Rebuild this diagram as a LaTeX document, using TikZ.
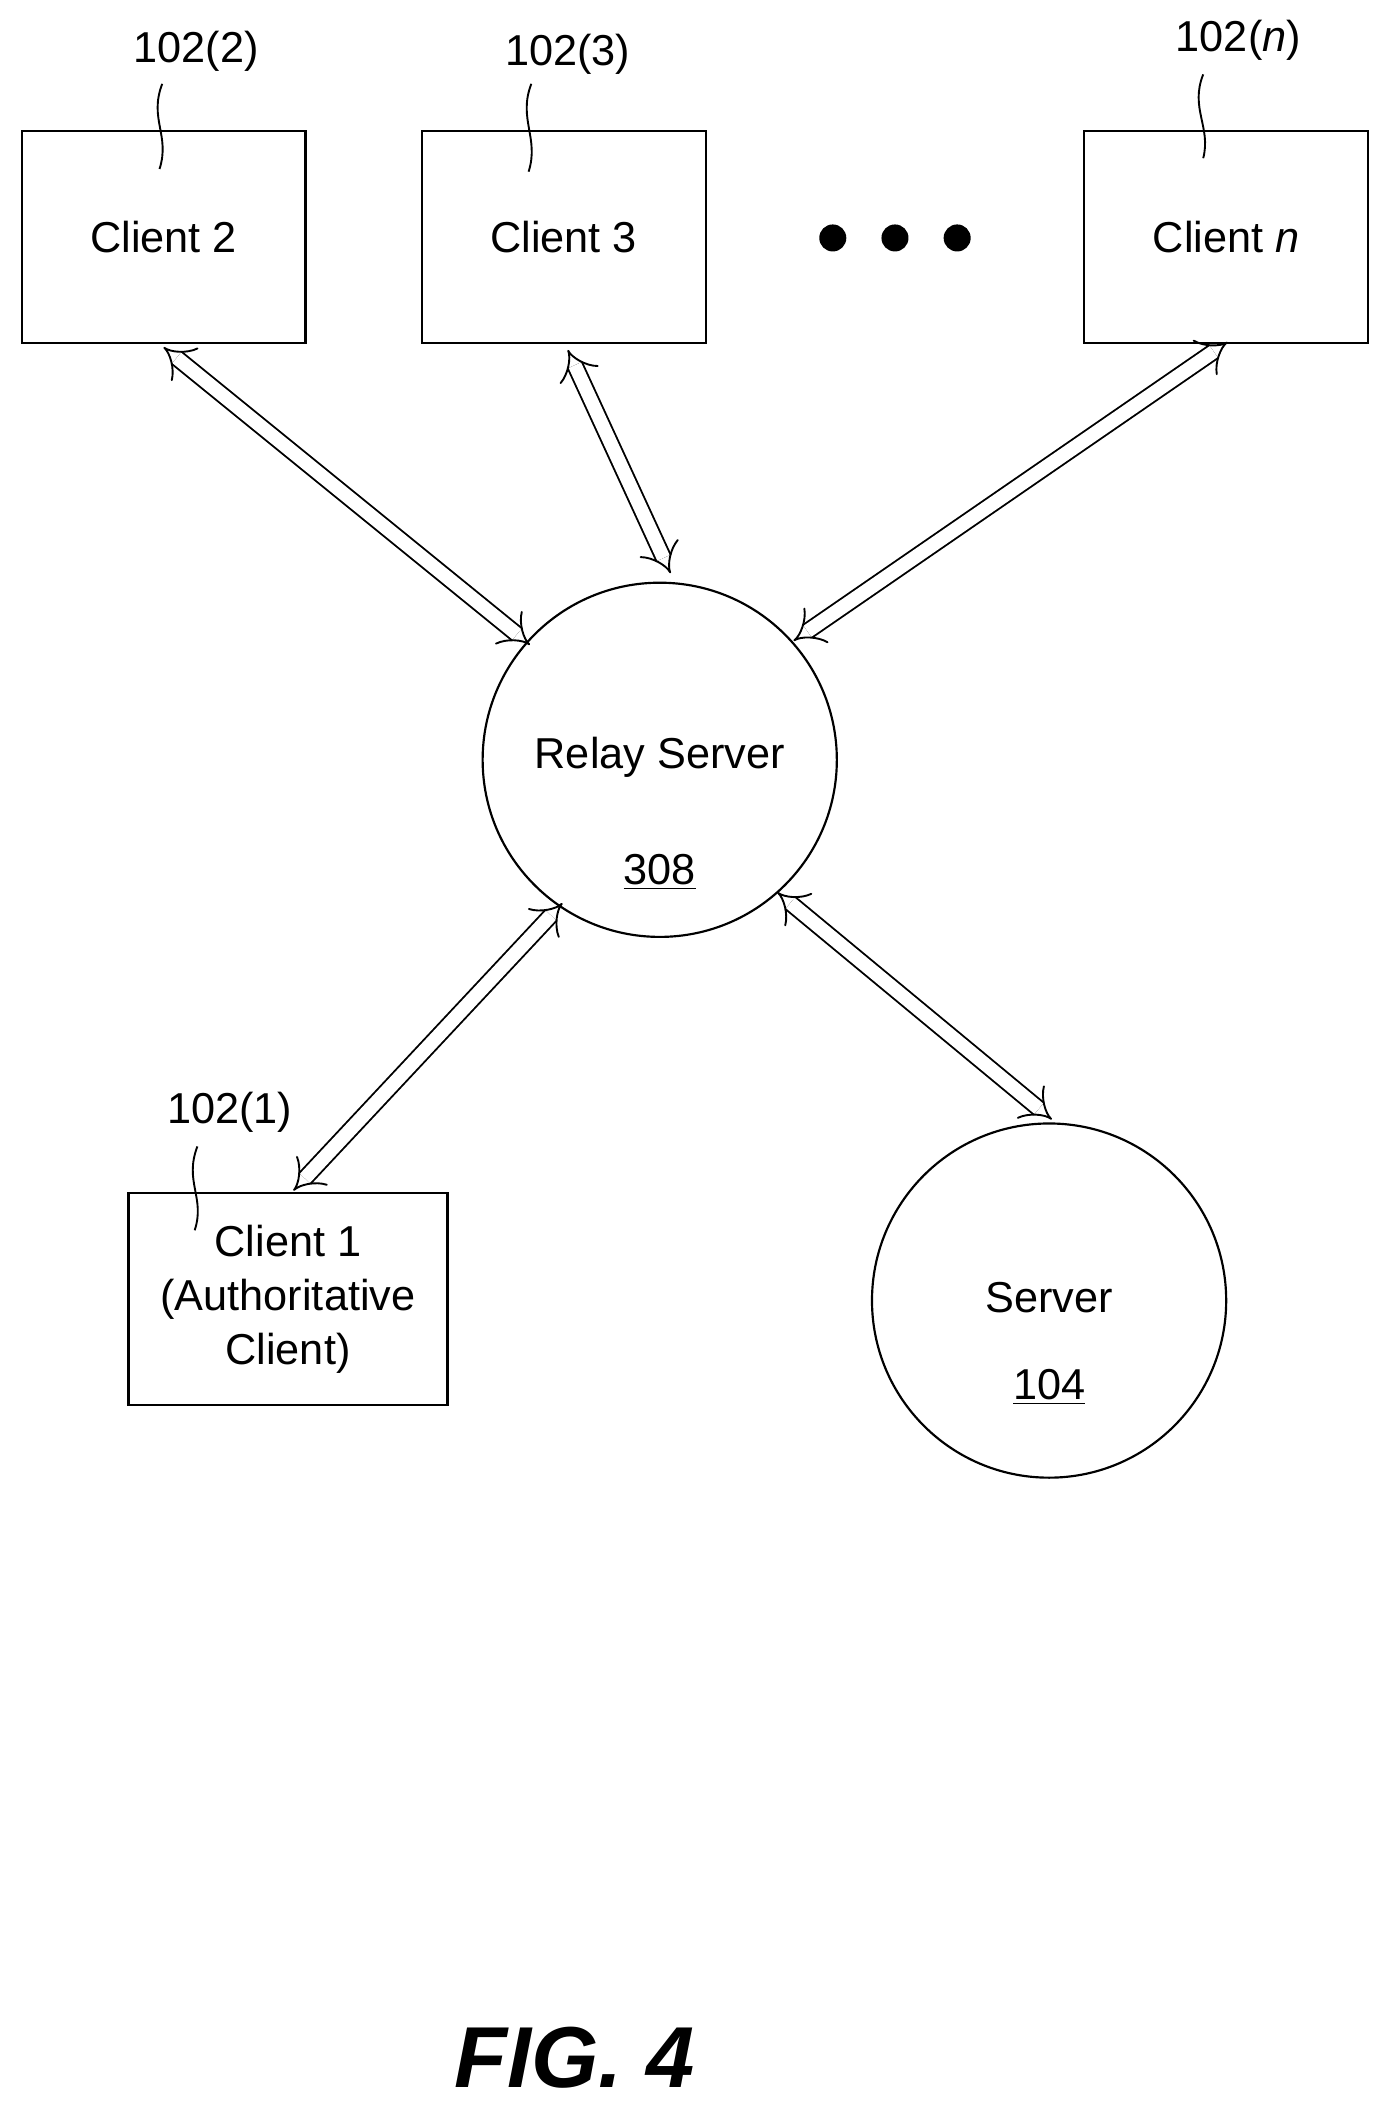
\documentclass[tikz,border=0pt]{standalone}
\usepackage{fontspec}
\setmainfont{Liberation Sans}
\usetikzlibrary{arrows.meta,positioning}
\tikzset{
  box/.style={draw, line width=0.8pt, minimum width=105pt, minimum height=78.5pt, align=center, font=\fontsize{16}{20}\selectfont},
  srv/.style={draw, circle, line width=0.8pt, minimum size=131pt},
  txt/.style={font=\fontsize{16}{20}\selectfont},
  ref/.style={font=\fontsize{16}{20}\selectfont},
  lead/.style={line width=0.7pt},
  link/.style={double, double distance=5pt, line width=0.7pt, {Implies}-{Implies}}
}
\begin{document}
\begin{tikzpicture}[x=0.5pt,y=-0.5pt]
    \useasboundingbox (0,0) rectangle (1024,1560);
    %clients along the top
    \node (c2) [box] at (121,175.5) {Client 2};
    \node (c3) [box] at (417,175.5) {Client 3};
    \node (cn) [box] at (907,175.5) {Client \textit{n}};
    \foreach \x in {616,662,708} \fill (\x,176) circle [radius=10];
    %relay and server
    \node (relay) [srv] at (488,562) {};
    \node (relayname) [txt] at (488,560) {Relay Server};
    \node (relaynum) [txt] at (488,645) {\underline{308}};
    \node (server) [srv] at (776,962) {};
    \node (servername) [txt] at (776,960) {Server};
    \node (servernum) [txt] at (776,1026) {\underline{104}};
    \node (c1) [box, minimum width=118pt] at (213,961) {Client 1\\(Authoritative\\Client)};
    %reference labels with leaders
    \node (l2) [ref] at (145,38) {102(2)};
    \node (l3) [ref] at (420,40) {102(3)};
    \node (ln) [ref] at (916,30) {102(\textit{n})};
    \node (l1) [ref] at (170,823) {102(1)};
    \draw [lead] (120,62) .. controls (110,88) and (126,100) .. (118,125);
    \draw [lead] (393,62) .. controls (383,88) and (399,102) .. (391,127);
    \draw [lead] (890,55) .. controls (880,80) and (896,94) .. (890,117);
    \draw [lead] (146,848) .. controls (136,874) and (152,886) .. (144,910);
    %links
    \draw [link] (c2.south) ++(0,2) -- (392,477);
    \draw [link] (c3.south) ++(3,4) -- (496,424);
    \draw [link] (908,253) -- (587,474);
    \draw [link] (c1.north) ++(4,-1) -- (416,668);
    \draw [link] (778,828) -- (575,660);
    %figure caption
    \node (fig) at (425,1522) {\fontsize{32}{38}\selectfont\bfseries\itshape FIG. 4};
\end{tikzpicture}
\end{document}
